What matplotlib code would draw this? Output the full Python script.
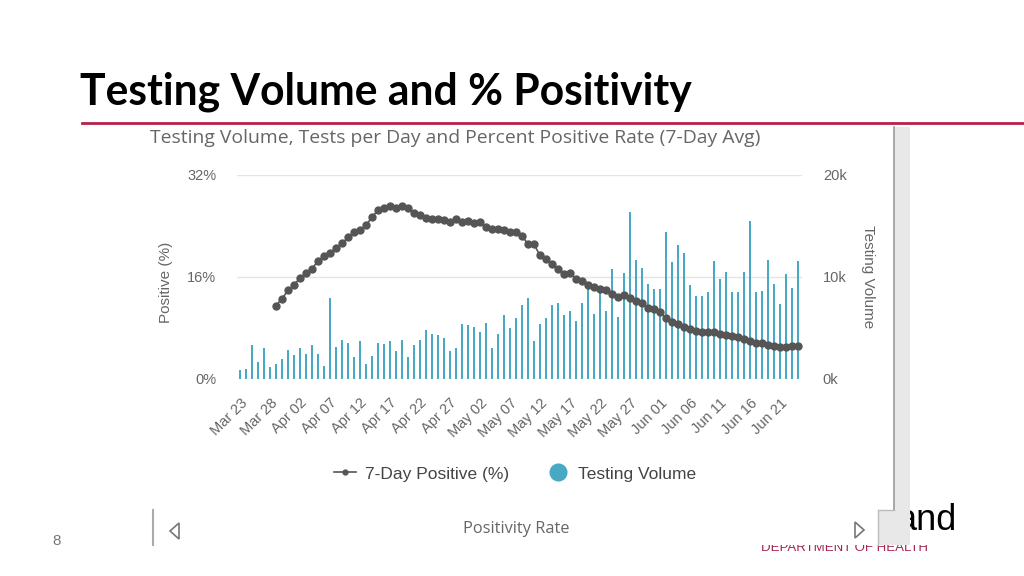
import matplotlib
matplotlib.use('Agg')
import matplotlib.pyplot as plt
import numpy as np
import pandas as pd
from matplotlib.lines import Line2D
from matplotlib.patches import Rectangle, Polygon
from matplotlib.transforms import Bbox

# ---------------- data ----------------
dates = pd.date_range('2020-03-23', periods=94)
tests_k = [0.9, 1.0, 3.3, 1.7, 3.0, 1.2, 1.5, 2.0, 2.8, 2.4, 3.0, 2.5, 3.3, 2.5, 1.3, 7.9,
           3.1, 3.8, 3.5, 2.2, 3.7, 1.5, 2.3, 3.5, 3.4, 3.7, 2.7, 3.8, 2.2, 3.3, 3.8, 4.8,
           4.4, 4.3, 4.0, 2.7, 3.0, 5.4, 5.3, 5.1, 4.6, 5.5, 3.0, 4.4, 6.3, 5.0, 6.0, 7.3,
           7.9, 3.7, 5.4, 6.0, 7.3, 7.5, 6.3, 6.7, 5.7, 7.5, 9.1, 6.4, 8.8, 6.7, 10.8, 6.1,
           10.4, 16.4, 11.7, 10.9, 9.3, 8.8, 8.8, 14.4, 11.5, 13.1, 12.4, 9.2, 8.1, 8.1, 8.5,
           11.6, 9.8, 10.5, 8.5, 8.5, 10.5, 15.5, 8.5, 8.6, 11.7, 9.3, 7.4, 10.3, 8.9, 11.6]
positive_pct = [np.nan] * 6 + [
    11.5, 12.6, 13.9, 14.8, 15.8, 16.6, 17.3, 18.5, 19.3, 19.8, 20.5, 21.3, 22.2, 23.0,
    23.3, 24.1, 25.4, 26.5, 26.9, 27.1, 26.8, 27.1, 26.8, 26.0, 25.8, 25.3, 25.1, 25.1,
    25.0, 24.7, 25.1, 24.6, 24.8, 24.5, 24.7, 23.8, 23.6, 23.6, 23.3, 23.0, 23.0, 22.4,
    21.2, 21.1, 19.4, 18.9, 18.1, 17.2, 16.5, 16.7, 15.7, 15.3, 14.8, 14.4, 14.1, 14.0,
    13.4, 12.8, 13.1, 12.7, 12.3, 11.9, 11.1, 11.0, 10.5, 9.5, 9.0, 8.6, 8.2, 7.8, 7.5,
    7.3, 7.4, 7.4, 7.1, 6.9, 6.8, 6.6, 6.3, 5.9, 5.7, 5.6, 5.4, 5.1, 5.0, 5.0, 5.1, 5.1]
left_ticks = [0, 16, 32]
left_labels = ['0%', '16%', '32%']
right_ticks = [0, 10000, 20000]
right_labels = ['0k', '10k', '20k']
tick_every = 5

# ---------------- figure ----------------
W, H = 1024, 576
fig = plt.figure(figsize=(W / 100, H / 100), dpi=100)
fig.patch.set_facecolor('white')
def fx(px): return px / W
def fy(py): return 1 - py / H
renderer = fig.canvas.get_renderer()
def fit(t, target_w):
    w = t.get_window_extent(renderer).width
    t.set_fontsize(t.get_fontsize() * target_w / w)

BAR = '#48a9c5'
LINE = '#555555'
GRAY = '#666666'
FONT = 'Liberation Sans'

x = np.arange(len(dates))
ax = fig.add_axes([fx(237), fy(379), fx(802) - fx(237), fy(175) - fy(379)])
ax2 = ax.twinx()

ax2.bar(x, np.array(tests_k) * 1000, width=0.42, color=BAR, zorder=2)
ax2.set_ylim(0, 20000)
ax2.set_yticks(right_ticks)
ax2.set_yticklabels(right_labels)
ax2.grid(axis='y', color='#e4e4e4', lw=1)
ax2.set_axisbelow(True)

ax.plot(x, positive_pct, color=LINE, marker='o', ms=5.0, lw=1.2, zorder=3)
ax.set_ylim(0, 32)
ax.set_xlim(-0.5, 93.67)
ax.set_yticks(left_ticks)
ax.set_yticklabels(left_labels)
ax.set_xticks(x[::tick_every])
ax.set_xticklabels([d.strftime('%b %d') for d in dates[::tick_every]],
                   rotation=45, ha='right', rotation_mode='anchor')
ax.set_zorder(ax2.get_zorder() + 1)
ax.patch.set_visible(False)

for a in (ax, ax2):
    for s in a.spines.values():
        s.set_visible(False)
    a.tick_params(length=0, colors=GRAY, labelsize=10.5)
    for lab in a.get_xticklabels() + a.get_yticklabels():
        lab.set_fontfamily(FONT)
ax.tick_params(axis='y', pad=15)
ax2.tick_params(axis='y', pad=15)
ax.tick_params(axis='x', pad=12)

fig.text(fx(166), fy(282), 'Positive (%)', rotation=90, ha='center', va='center',
         color=GRAY, fontsize=11, family=FONT)
fig.text(fx(868), fy(277), 'Testing Volume', rotation=270, ha='center', va='center',
         color=GRAY, fontsize=11, family=FONT)

# legend
handles = [Line2D([], [], color=LINE, marker='o', ms=3.5, lw=1.2),
           Line2D([], [], ls='none', marker='o', ms=12, color=BAR)]
leg = fig.legend(handles, ['7-Day Positive (%)', 'Testing Volume'], ncol=2, frameon=False,
                 loc='center', bbox_to_anchor=(fx(515), fy(474)), handlelength=1.3,
                 handletextpad=0.5, columnspacing=2.2,
                 prop={'family': FONT, 'size': 12.5})
for t in leg.get_texts():
    t.set_color('#444444')

# slide title and rule
t = fig.text(fx(80), fy(104), 'Testing Volume and % Positivity', ha='left', va='baseline',
             fontsize=30, fontweight='bold', family='Lato', color='black')
fit(t, 612)
fig.add_artist(Line2D([fx(82), fx(1024)], [fy(123), fy(123)], color='#b8214a', lw=2))

# chart title
t = fig.text(fx(150), fy(138), 'Testing Volume, Tests per Day and Percent Positive Rate (7-Day Avg)',
             ha='left', va='center', fontsize=12, family='Open Sans', color=GRAY)
fit(t, 607)

# bottom bar
t = fig.text(fx(516), fy(529), 'Positivity Rate', ha='center', va='center',
             fontsize=10, family='Open Sans', color=GRAY)
fit(t, 107)
fig.add_artist(Line2D([fx(153), fx(153)], [fy(510), fy(545)], color='#aaaaaa', lw=1.5))
fig.add_artist(Polygon([[fx(179), fy(523)], [fx(179), fy(539)], [fx(170), fy(531)]],
                       closed=True, fill=False, edgecolor='#777777', lw=1.2))
fig.add_artist(Polygon([[fx(855), fy(522)], [fx(855), fy(538)], [fx(864), fy(530)]],
                       closed=True, fill=False, edgecolor='#777777', lw=1.2))
fig.text(fx(57), fy(541), '8', ha='center', va='center', fontsize=11, family=FONT, color='#777777')

# logo fragments
fig.text(fx(957), fy(530), 'and', ha='right', va='baseline', fontsize=26, family=FONT,
         color='black', zorder=1)
dep = fig.text(fx(928), fy(551), 'DEPARTMENT OF HEALTH', ha='right', va='baseline',
               fontsize=9.5, family=FONT, color='#a8234f', zorder=1)
dep.set_clip_box(Bbox.from_extents(0, 0, W, H - 545))
dep.set_clip_on(True)

# scrollbar
fig.add_artist(Rectangle((fx(894), fy(545)), fx(910) - fx(894), fy(127) - fy(545),
                         facecolor='#e8e8e8', edgecolor='none', zorder=5))
fig.add_artist(Line2D([fx(894), fx(894)], [fy(127), fy(510)], color='#9a9a9a', lw=1.2, zorder=6))
fig.add_artist(Rectangle((fx(878), fy(545)), fx(910) - fx(878), fy(510) - fy(545),
                         facecolor='#e8e8e8', edgecolor='none', zorder=5))
fig.add_artist(Line2D([fx(878), fx(878), fx(894)], [fy(545), fy(510), fy(510)],
                      color='#bbbbbb', lw=1, zorder=6))

fig.savefig('out.png', dpi=100, facecolor='white')
